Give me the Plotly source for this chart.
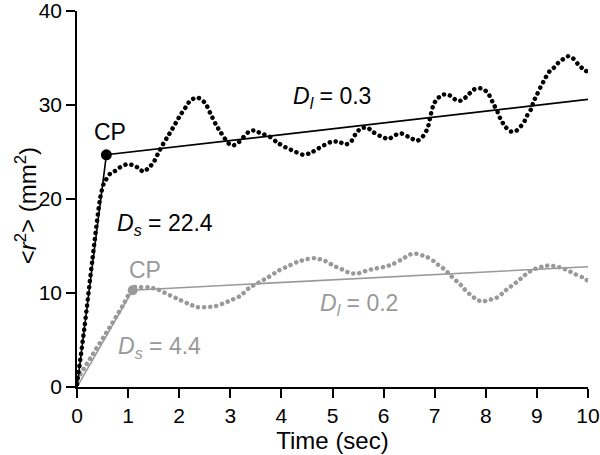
import plotly.graph_objects as go

# ---- data ----
t_black = [0, 0.15, 0.3, 0.45, 0.52, 0.65, 0.75, 0.85, 0.98, 1.1, 1.2, 1.3, 1.4, 1.5, 1.6, 1.69, 1.77, 1.87,
           2.02, 2.12, 2.22, 2.36, 2.51, 2.61, 2.71, 2.81, 2.97, 3.06, 3.16, 3.26, 3.35, 3.45, 3.55, 3.65,
           3.78, 3.92, 4.08, 4.24, 4.43, 4.57, 4.70, 4.86, 4.99, 5.12, 5.25, 5.35, 5.45, 5.55, 5.68, 5.80,
           5.97, 6.10, 6.23, 6.33, 6.42, 6.56, 6.66, 6.76, 6.86, 6.92, 6.98, 7.06, 7.15, 7.27, 7.37, 7.46,
           7.56, 7.66, 7.75, 7.85, 7.95, 8.05, 8.15, 8.22, 8.28, 8.38, 8.48, 8.58, 8.68, 8.76, 8.81, 8.89,
           8.93, 9.01, 9.07, 9.13, 9.18, 9.25, 9.34, 9.42, 9.52, 9.62, 9.72, 9.81, 9.91, 10.0]
r2_black = [0.3, 6.5, 13.5, 20.0, 21.6, 22.7, 23.0, 23.4, 23.7, 23.6, 23.3, 22.9, 23.3, 23.9, 25.0, 25.9, 26.6, 27.5,
            28.9, 29.7, 30.5, 30.8, 30.2, 29.1, 28.0, 27.1, 25.9, 25.7, 26.0, 26.6, 27.1, 27.3, 27.1, 26.9,
            26.6, 26.0, 25.5, 25.1, 24.7, 24.9, 25.3, 25.8, 26.1, 26.1, 25.8, 26.0, 26.9, 27.5, 27.6, 27.1,
            26.6, 26.4, 26.8, 27.0, 26.8, 26.4, 26.2, 26.6, 27.5, 28.9, 30.1, 30.7, 31.1, 31.1, 30.7, 30.4,
            30.6, 31.1, 31.6, 31.8, 31.7, 31.2, 30.1, 29.4, 28.6, 27.7, 27.2, 27.2, 27.7, 28.3, 28.9, 29.6,
            30.3, 31.2, 31.9, 32.5, 33.0, 33.6, 34.0, 34.5, 34.9, 35.2, 34.9, 34.3, 33.8, 33.5]

t_gray = [0, 0.3, 0.6, 0.9, 1.1, 1.25, 1.4, 1.57, 1.76, 1.96, 2.16, 2.35, 2.55, 2.71, 2.87, 3.04, 3.2, 3.36,
          3.55, 3.75, 3.95, 4.11, 4.31, 4.5, 4.66, 4.86, 5.02, 5.19, 5.35, 5.51, 5.68, 5.84, 6.03, 6.19, 6.33,
          6.52, 6.62, 6.76, 6.86, 6.98, 7.07, 7.17, 7.27, 7.34, 7.44, 7.54, 7.6, 7.7, 7.8, 7.91, 8.03, 8.15,
          8.25, 8.35, 8.44, 8.54, 8.64, 8.74, 8.84, 8.93, 9.05, 9.16, 9.29, 9.4, 9.52, 9.64, 9.75, 9.88, 10.0]
r2_gray = [0.8, 3.4, 6.0, 8.7, 10.6, 10.6, 10.6, 10.4, 9.9, 9.4, 8.9, 8.5, 8.5, 8.6, 8.9, 9.3, 9.7, 10.5,
           11.1, 11.7, 12.4, 12.8, 13.3, 13.6, 13.7, 13.4, 12.9, 12.5, 12.1, 12.1, 12.4, 12.6, 12.8, 13.1, 13.5,
           14.1, 14.2, 14.0, 13.8, 13.4, 13.0, 12.6, 12.1, 11.7, 11.2, 10.7, 10.3, 9.8, 9.4, 9.1, 9.2, 9.4,
           9.6, 10.1, 10.5, 10.9, 11.3, 11.8, 12.2, 12.5, 12.7, 12.9, 12.9, 12.8, 12.6, 12.3, 12.0, 11.7, 11.3]

fit_t_black = [0, 0.575, 10]
fit_r2_black = [0, 24.7, 30.6]
fit_t_gray = [0, 1.09, 10]
fit_r2_gray = [0, 10.3, 12.8]

cp_black = (0.575, 24.7)
cp_gray = (1.09, 10.3)

x_ticks = list(range(0, 11))
y_ticks = [0, 10, 20, 30, 40]

BLACK = "#000000"
GRAY = "#999999"
FONT = "Liberation Sans, Arial, Helvetica, sans-serif"

fig = go.Figure()

fig.add_trace(go.Scatter(x=t_gray, y=r2_gray, mode="lines",
                         line=dict(color=GRAY, width=4.5, dash="3px,3px", shape="spline", smoothing=0.6)))
fig.add_trace(go.Scatter(x=fit_t_gray, y=fit_r2_gray, mode="lines", line=dict(color=GRAY, width=1.6)))
fig.add_trace(go.Scatter(x=[cp_gray[0]], y=[cp_gray[1]], mode="markers",
                         marker=dict(color=GRAY, size=10), cliponaxis=False))

fig.add_trace(go.Scatter(x=t_black, y=r2_black, mode="lines",
                         line=dict(color=BLACK, width=4.5, dash="3px,3px", shape="spline", smoothing=0.6)))
fig.add_trace(go.Scatter(x=fit_t_black, y=fit_r2_black, mode="lines", line=dict(color=BLACK, width=1.6)))
fig.add_trace(go.Scatter(x=[cp_black[0]], y=[cp_black[1]], mode="markers",
                         marker=dict(color=BLACK, size=11), cliponaxis=False))

ann = []
def label(x, y, text, color, size=23):
    ann.append(dict(x=x, y=y, xref="x", yref="y", text=text, showarrow=False,
                    font=dict(family=FONT, size=size, color=color), xanchor="left", yanchor="middle"))

label(0.29, 27.1, "CP", BLACK)
label(0.97, 12.5, "CP", GRAY)
label(4.18, 30.8, "<i>D</i><sub><i>l</i></sub> = 0.3", BLACK)
label(0.74, 17.3, "<i>D</i><sub><i>s</i></sub> = 22.4", BLACK)
label(4.72, 8.8, "<i>D</i><sub><i>l</i></sub> = 0.2", GRAY)
label(0.76, 4.2, "<i>D</i><sub><i>s</i></sub> = 4.4", GRAY)

ann.append(dict(x=-0.1, y=0.483, xref="paper", yref="paper", textangle=-90,
                text="<<i>r</i><sup>2</sup>> (mm<sup>2</sup>)", showarrow=False,
                font=dict(family=FONT, size=24, color=BLACK), xanchor="center", yanchor="middle"))

fig.update_layout(
    template="none",
    width=600, height=455,
    margin=dict(l=77, r=12, t=11, b=68, autoexpand=False),
    paper_bgcolor="white", plot_bgcolor="white",
    showlegend=False,
    annotations=ann,
    font=dict(family=FONT, color=BLACK),
    xaxis=dict(range=[0, 10], tickvals=x_ticks, ticktext=[str(v) for v in x_ticks], automargin=False,
               showgrid=False, zeroline=False, showline=True, linecolor=BLACK, linewidth=1.5,
               ticks="outside", ticklen=9, tickwidth=1.5, tickcolor=BLACK, ticklabeloverflow="allow",
               tickfont=dict(family=FONT, size=21, color=BLACK),
               title=dict(text="Time (sec)", font=dict(family=FONT, size=24, color=BLACK), standoff=2)),
    yaxis=dict(range=[0, 40], tickvals=y_ticks, ticktext=[str(v) for v in y_ticks], automargin=False,
               showgrid=False, zeroline=False, showline=True, linecolor=BLACK, linewidth=1.5,
               ticks="outside", ticklen=9, tickwidth=1.5, tickcolor=BLACK, ticklabeloverflow="allow",
               tickfont=dict(family=FONT, size=21, color=BLACK)),
)

post = """
(function(){
  document.documentElement.style.margin = '0';
  document.body.style.margin = '0';
  document.body.style.padding = '0';
  document.body.style.overflow = 'hidden';
  function roundDots(){
    var paths = document.querySelectorAll('.scatterlayer .js-line');
    paths.forEach(function(p){
      var d = p.style.strokeDasharray || p.getAttribute('stroke-dasharray') || '';
      if (d && d !== 'none' && d.indexOf('3px') !== -1) {
        p.style.strokeLinecap = 'round';
        p.style.strokeDasharray = '0.1px, 6px';
      }
    });
  }
  roundDots();
  var gd = document.getElementById('{plot_id}');
  if (gd && gd.on) { gd.on('plotly_afterplot', roundDots); }
})();
"""

fig.write_html("out.html", post_script=post, config={"displayModeBar": False})
